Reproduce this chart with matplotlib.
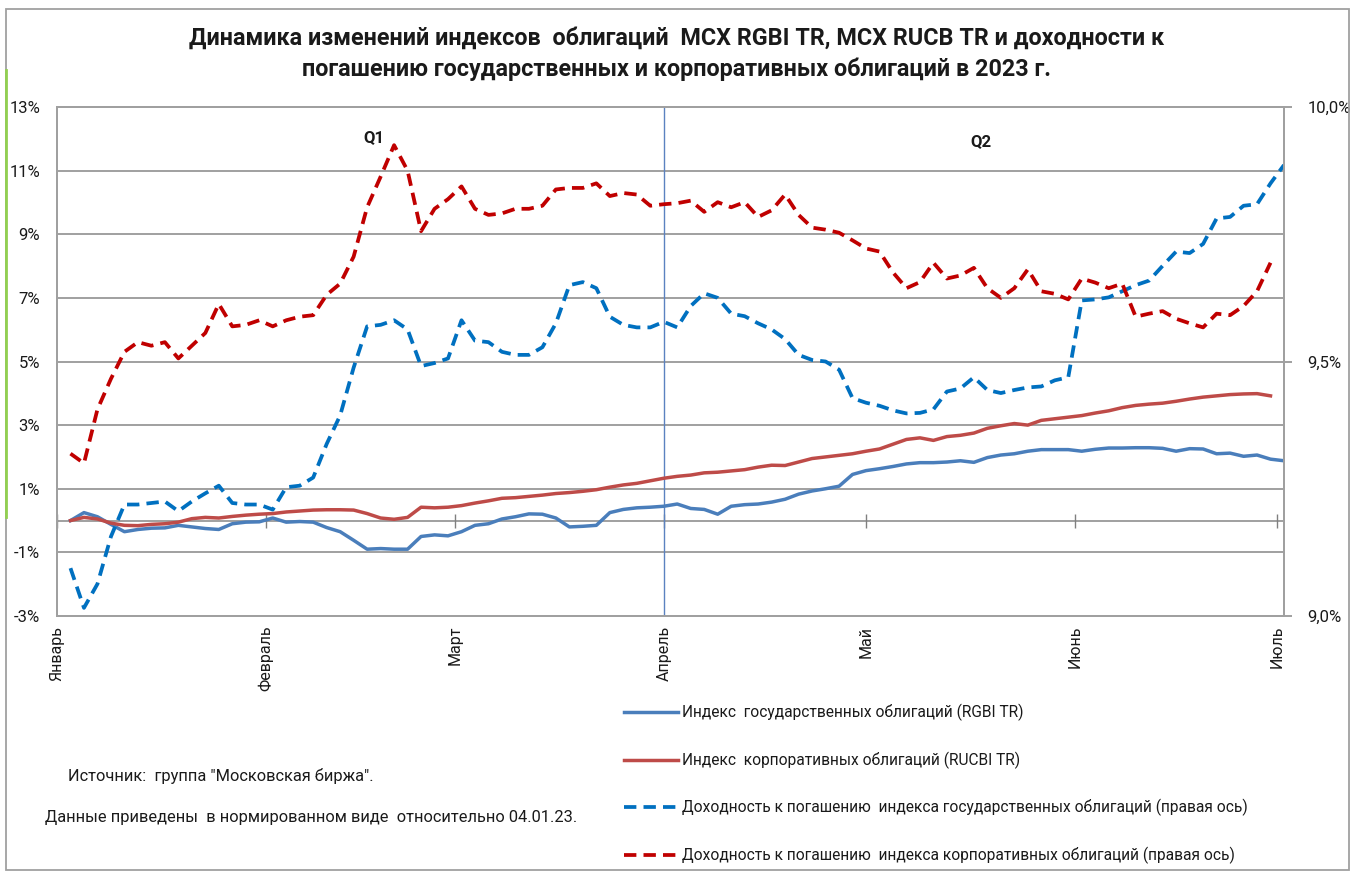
import numpy as np
import pandas as pd
import matplotlib
matplotlib.use('Agg')
import matplotlib.pyplot as plt
from matplotlib.lines import Line2D
from matplotlib.patches import Rectangle

plt.rcParams['font.family'] = ['Roboto', 'DejaVu Sans']

# дни от 1 января 2023 (каждые 2 дня)
day_offsets = np.arange(2, 183, 2)

# индекс гос. облигаций RGBI TR, % к 04.01.23 (левая ось)
rgbi = [0.0, 0.25, 0.12, -0.12, -0.35, -0.28, -0.24, -0.23, -0.15, -0.2,
        -0.25, -0.28, -0.1, -0.05, -0.04, 0.08, -0.05, -0.03, -0.05, -0.22,
        -0.35, -0.62, -0.9, -0.88, -0.9, -0.9, -0.5, -0.45, -0.48, -0.35,
        -0.15, -0.1, 0.05, 0.12, 0.21, 0.2, 0.08, -0.2, -0.18, -0.15,
        0.25, 0.35, 0.4, 0.42, 0.45, 0.52, 0.38, 0.35, 0.2, 0.45,
        0.5, 0.52, 0.58, 0.67, 0.83, 0.93, 1.0, 1.08, 1.45, 1.57,
        1.63, 1.7, 1.78, 1.82, 1.82, 1.84, 1.88, 1.83, 1.98, 2.06,
        2.1, 2.18, 2.23, 2.23, 2.23, 2.18, 2.24, 2.28, 2.28, 2.29,
        2.29, 2.27, 2.18, 2.26, 2.25, 2.1, 2.12, 2.02, 2.06, 1.93,
        1.88]

# индекс корп. облигаций RUCBI TR, % (левая ось)
rucbi = [0.0, 0.1, 0.05, -0.08, -0.15, -0.16, -0.12, -0.1, -0.05, 0.06,
         0.1, 0.08, 0.13, 0.17, 0.2, 0.22, 0.27, 0.3, 0.33, 0.34,
         0.34, 0.33, 0.22, 0.08, 0.04, 0.1, 0.42, 0.4, 0.42, 0.47,
         0.55, 0.62, 0.7, 0.72, 0.76, 0.8, 0.85, 0.88, 0.92, 0.97,
         1.05, 1.12, 1.17, 1.25, 1.33, 1.39, 1.43, 1.5, 1.52, 1.56,
         1.6, 1.68, 1.74, 1.73, 1.84, 1.95, 2.0, 2.05, 2.1, 2.18,
         2.25, 2.4, 2.55, 2.6, 2.52, 2.64, 2.68, 2.75, 2.9, 2.98,
         3.05, 3.0, 3.15, 3.2, 3.25, 3.3, 3.38, 3.45, 3.55, 3.62,
         3.66, 3.69, 3.75, 3.82, 3.88, 3.92, 3.96, 3.98, 3.99, 3.92,
         np.nan]

# доходность к погашению гос. облигаций, % (правая ось)
ytm_gov = [9.094, 9.016, 9.063, 9.156, 9.219, 9.219, 9.222, 9.225, 9.206, 9.225,
           9.241, 9.256, 9.222, 9.219, 9.219, 9.209, 9.253, 9.256, 9.272, 9.338,
           9.394, 9.488, 9.569, 9.572, 9.581, 9.563, 9.491, 9.497, 9.506, 9.581,
           9.541, 9.538, 9.519, 9.513, 9.513, 9.528, 9.575, 9.650, 9.656, 9.644,
           9.588, 9.572, 9.567, 9.567, 9.578, 9.567, 9.609, 9.634, 9.625, 9.594,
           9.589, 9.575, 9.563, 9.544, 9.513, 9.503, 9.500, 9.484, 9.428, 9.419,
           9.413, 9.404, 9.398, 9.399, 9.406, 9.441, 9.447, 9.469, 9.444, 9.438,
           9.444, 9.449, 9.451, 9.463, 9.469, 9.620, 9.622, 9.626, 9.638, 9.650,
           9.659, 9.688, 9.716, 9.713, 9.731, 9.781, 9.784, 9.806, 9.809, 9.850,
           9.886]

# доходность к погашению корп. облигаций, % (правая ось)
ytm_corp = [9.319, 9.300, 9.406, 9.466, 9.519, 9.538, 9.531, 9.538, 9.506, 9.531,
            9.556, 9.613, 9.569, 9.572, 9.581, 9.569, 9.581, 9.588, 9.591, 9.631,
            9.653, 9.706, 9.803, 9.863, 9.925, 9.875, 9.756, 9.800, 9.819, 9.844,
            9.800, 9.788, 9.791, 9.800, 9.800, 9.806, 9.838, 9.841, 9.841, 9.850,
            9.825, 9.831, 9.828, 9.806, 9.809, 9.811, 9.816, 9.794, 9.813, 9.803,
            9.813, 9.784, 9.797, 9.828, 9.788, 9.763, 9.759, 9.753, 9.738, 9.722,
            9.716, 9.675, 9.644, 9.656, 9.694, 9.663, 9.669, 9.684, 9.644, 9.625,
            9.644, 9.681, 9.638, 9.633, 9.622, 9.663, 9.655, 9.644, 9.653, 9.588,
            9.594, 9.599, 9.584, 9.575, 9.567, 9.594, 9.591, 9.609, 9.638, 9.694,
            np.nan]

month_labels = ['Январь', 'Февраль', 'Март', 'Апрель', 'Май', 'Июнь', 'Июль']
left_ticks = [-3, -1, 1, 3, 5, 7, 9, 11, 13]
right_ticks = [9.0, 9.5, 10.0]

series_names = ['Индекс  государственных облигаций (RGBI TR)',
                'Индекс  корпоративных облигаций (RUCBI TR)',
                'Доходность к погашению  индекса государственных облигаций (правая ось)',
                'Доходность к погашению  индекса корпоративных облигаций (правая ось)']

start = pd.Timestamp('2023-01-01')
dates = start + pd.to_timedelta(day_offsets, unit='D')
months = pd.date_range('2023-01-01', '2023-07-01', freq='MS')

W, H = 1359, 872
fig = plt.figure(figsize=(W / 100, H / 100), dpi=100)
ax = fig.add_axes([57 / W, 1 - 616 / H, (1284 - 57) / W, (616 - 107) / H])
ax2 = ax.twinx()

grid_c = '#A0A0A0'
txt_c = '#1a1a1a'

ax.set_ylim(-3, 13)
ax.set_xlim(start, start + pd.Timedelta(days=182))
ax.set_yticks(left_ticks)
ax.set_yticklabels(['%d%%' % t for t in left_ticks])
ax.tick_params(axis='y', length=0, pad=12, labelsize=12, labelcolor=txt_c)
ax.yaxis.grid(True, color=grid_c, lw=1.4)
ax.set_axisbelow(True)

ax.set_xticks(months)
ax.set_xticklabels(month_labels, rotation=90)
ax.tick_params(axis='x', length=0, pad=7, labelsize=11.5, labelcolor=txt_c)

# ось X на уровне 0% с засечками по месяцам
ax.axhline(0, color=grid_c, lw=1.4, zorder=1)
ax.vlines(months, -0.22, 0.22, color='#808080', lw=1, zorder=1)
ax.axvline(pd.Timestamp('2023-04-01'), color='#5B82C0', lw=1, zorder=1)

for a in (ax, ax2):
    for s in a.spines.values():
        s.set_color(grid_c)
        s.set_linewidth(1.4)

ax2.set_ylim(9.0, 10.0)
ax2.set_yticks(right_ticks)
ax2.set_yticklabels([('%.1f%%' % t).replace('.', ',') for t in right_ticks])
ax2.tick_params(axis='y', length=6, width=1.4, color=grid_c, pad=11,
                labelsize=12, labelcolor=txt_c)

l1, = ax.plot(dates, rgbi, color='#4A7EBB', lw=2.5, label=series_names[0])
l2, = ax.plot(dates, rucbi, color='#BE4B48', lw=2.5, label=series_names[1])
l3, = ax2.plot(dates, ytm_gov, color='#0070C0', lw=2.7, dashes=(3.3, 1.9),
               label=series_names[2])
l4, = ax2.plot(dates, ytm_corp, color='#C00000', lw=2.7, dashes=(3.3, 1.9),
               label=series_names[3])

ax.text(pd.Timestamp('2023-02-17'), 12.05, 'Q1', fontsize=12, fontweight='bold',
        ha='center', va='center', color=txt_c)
ax.text(pd.Timestamp('2023-05-18'), 11.93, 'Q2', fontsize=12, fontweight='bold',
        ha='center', va='center', color=txt_c)

fig.text(0.498, 1 - 38 / H,
         'Динамика изменений индексов  облигаций  MCX RGBI TR, MCX RUCB TR и доходности к',
         ha='center', va='center', fontsize=16.8, fontweight='bold', color=txt_c)
fig.text(0.498, 1 - 69 / H,
         'погашению государственных и корпоративных облигаций в 2023 г.',
         ha='center', va='center', fontsize=16.8, fontweight='bold', color=txt_c)

fig.legend(handles=[l1, l2, l3, l4], loc='upper left',
           bbox_to_anchor=(624 / W, 1 - 704 / H), frameon=False,
           fontsize=11.2, handlelength=3.5, handletextpad=0.2,
           labelspacing=1.95, borderpad=0, borderaxespad=0, labelcolor=txt_c)

fig.text(68 / W, 1 - 776 / H, 'Источник:  группа "Московская биржа".',
         fontsize=11.8, va='center', color=txt_c)
fig.text(45 / W, 1 - 817 / H,
         'Данные приведены  в нормированном виде  относительно 04.01.23.',
         fontsize=11.8, va='center', color=txt_c)

# рамка области диаграммы
fig.add_artist(Rectangle((6 / W, 2 / H), (1349 - 6) / W, (870 - 9) / H,
                         transform=fig.transFigure, fill=False,
                         edgecolor='#A0A0A0', lw=1.3))
fig.add_artist(Line2D([6 / W, 6 / W], [1 - 70 / H, 1 - 517 / H],
                      transform=fig.transFigure, color='#92D050', lw=2))

fig.savefig('out.png', dpi=100, facecolor='white')
